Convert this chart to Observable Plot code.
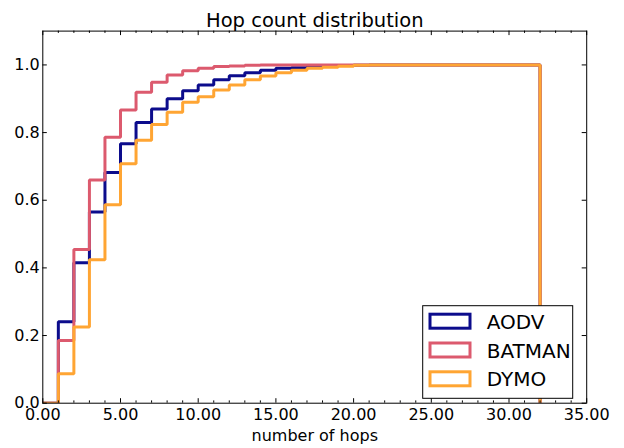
<!DOCTYPE html>
<html>
<head>
<meta charset="utf-8">
<script src="https://cdn.jsdelivr.net/npm/d3@7"></script>
<script src="https://cdn.jsdelivr.net/npm/@observablehq/plot@0.6"></script>
<style>
  body { margin: 0; background: #fff; }
  #chart svg { display: block; }
</style>
</head>
<body>
<div id="chart"></div>
<script>
// ---- data (cumulative fraction per hop-count bin, bins [0,1), [1,2), ... [31,32]) ----
const binEdges = [0,1,2,3,4,5,6,7,8,9,10,11,12,13,14,15,16,17,18,19,20,21,22,23,24,25,26,27,28,29,30,31,32];
const aodv   = [0,0.241,0.415,0.565,0.682,0.767,0.830,0.870,0.900,0.924,0.941,0.956,0.968,0.977,0.984,0.990,0.992,0.994,0.996,0.998,0.999,1,1,1,1,1,1,1,1,1,1,1];
const batman = [0,0.185,0.454,0.660,0.786,0.867,0.919,0.949,0.970,0.983,0.990,0.995,0.997,0.999,1,1,1,1,1,1,1,1,1,1,1,1,1,1,1,1,1,1];
const dymo   = [0,0.087,0.225,0.424,0.587,0.708,0.777,0.824,0.860,0.890,0.906,0.926,0.941,0.956,0.967,0.977,0.984,0.990,0.993,0.996,0.999,1,1,1,1,1,1,1,1,1,1,1];
const seriesNames  = ["AODV", "BATMAN", "DYMO"];
const seriesColors = ["#0c0c8c", "#dc5a6e", "#ffa533"];
const xTicks      = [0,5,10,15,20,25,30,35];
const xMinorTicks = [1,2,3,4,6,7,8,9,11,12,13,14,16,17,18,19,21,22,23,24,26,27,28,29,31,32,33,34];
const yTicks      = [0,0.2,0.4,0.6,0.8,1.0];
const titleText   = "Hop count distribution";
const xLabelText  = "number of hops";

// ---- build step outline table ----
const seriesValues = [aodv, batman, dymo];
const rows = [];
seriesNames.forEach((name, s) => {
  const vals = seriesValues[s];
  vals.forEach((v, i) => rows.push({series: name, hops: binEdges[i], cdf: v}));
  rows.push({series: name, hops: binEdges[binEdges.length - 1], cdf: vals[vals.length - 1]});
  rows.push({series: name, hops: binEdges[binEdges.length - 1], cdf: 0});
});

const W = 624, H = 448;
const mL = 42.3, mR = 37.8, mT = 30.6, mB = 45.3;
const innerW = W - mL - mR, innerH = H - mT - mB;
const major = 4.5, minor = 2.3;

const chart = Plot.plot({
  width: W, height: H,
  marginLeft: mL, marginRight: mR, marginTop: mT, marginBottom: mB,
  style: {fontFamily: "DejaVu Sans", fontSize: "16px", color: "black", background: "white"},
  x: {domain: [0, 35]},
  y: {domain: [0, 1.1]},
  color: {domain: seriesNames, range: seriesColors},
  marks: [
    Plot.line(rows, {x: "hops", y: "cdf", z: "series", stroke: "series", curve: "step-after",
      strokeWidth: 3, strokeLinejoin: "miter", strokeLinecap: "butt", clip: true}),
    Plot.frame({stroke: "black", strokeWidth: 1}),
    // inward ticks: bottom & top
    Plot.ruleX(xTicks, {x: d => d, insetTop: innerH - major, stroke: "black"}),
    Plot.ruleX(xTicks, {x: d => d, insetBottom: innerH - major, stroke: "black"}),
    Plot.ruleX(xMinorTicks, {x: d => d, insetTop: innerH - minor, stroke: "black"}),
    Plot.ruleX(xMinorTicks, {x: d => d, insetBottom: innerH - minor, stroke: "black"}),
    // inward ticks: left & right
    Plot.ruleY(yTicks, {y: d => d, insetRight: innerW - major, stroke: "black"}),
    Plot.ruleY(yTicks, {y: d => d, insetLeft: innerW - major, stroke: "black"}),
    Plot.axisX({ticks: xTicks, tickSize: 0, tickPadding: 5, tickFormat: d3.format(".2f"),
      fontSize: 16, label: null, anchor: "bottom"}),
    Plot.axisY({ticks: yTicks, tickSize: 0, tickPadding: 3, tickFormat: d3.format(".1f"),
      fontSize: 16, label: null, anchor: "left"}),
    Plot.text([titleText], {frameAnchor: "top", lineAnchor: "top", dy: -18.4, fontSize: 19.5, fill: "black"}),
    Plot.text([xLabelText], {frameAnchor: "bottom", lineAnchor: "top", dy: 26, fontSize: 16, fill: "black"})
  ]
});

document.getElementById("chart").appendChild(chart);

// ---- legend (lower right, inside axes) ----
const svg = d3.select(chart);
const boxW = 150, boxH = 92.6;
const boxX = W - mR - 13.5 - boxW, boxY = H - mB - 4.4 - boxH;
const g = svg.append("g").attr("font-family", "DejaVu Sans").attr("text-anchor", "start");
g.append("rect").attr("x", boxX).attr("y", boxY).attr("width", boxW).attr("height", boxH)
  .attr("fill", "white").attr("stroke", "black").attr("stroke-width", 1);
seriesNames.forEach((name, i) => {
  const cy = boxY + 15.5 + i * 28.8;
  g.append("rect").attr("x", boxX + 7.3).attr("y", cy - 7).attr("width", 40).attr("height", 14)
    .attr("fill", "white").attr("stroke", seriesColors[i]).attr("stroke-width", 3)
    .attr("stroke-linejoin", "miter");
  g.append("text").attr("x", boxX + 64).attr("y", cy + 7.5).attr("font-size", 20)
    .attr("text-anchor", "start").attr("fill", "black").text(name);
});
</script>
</body>
</html>
